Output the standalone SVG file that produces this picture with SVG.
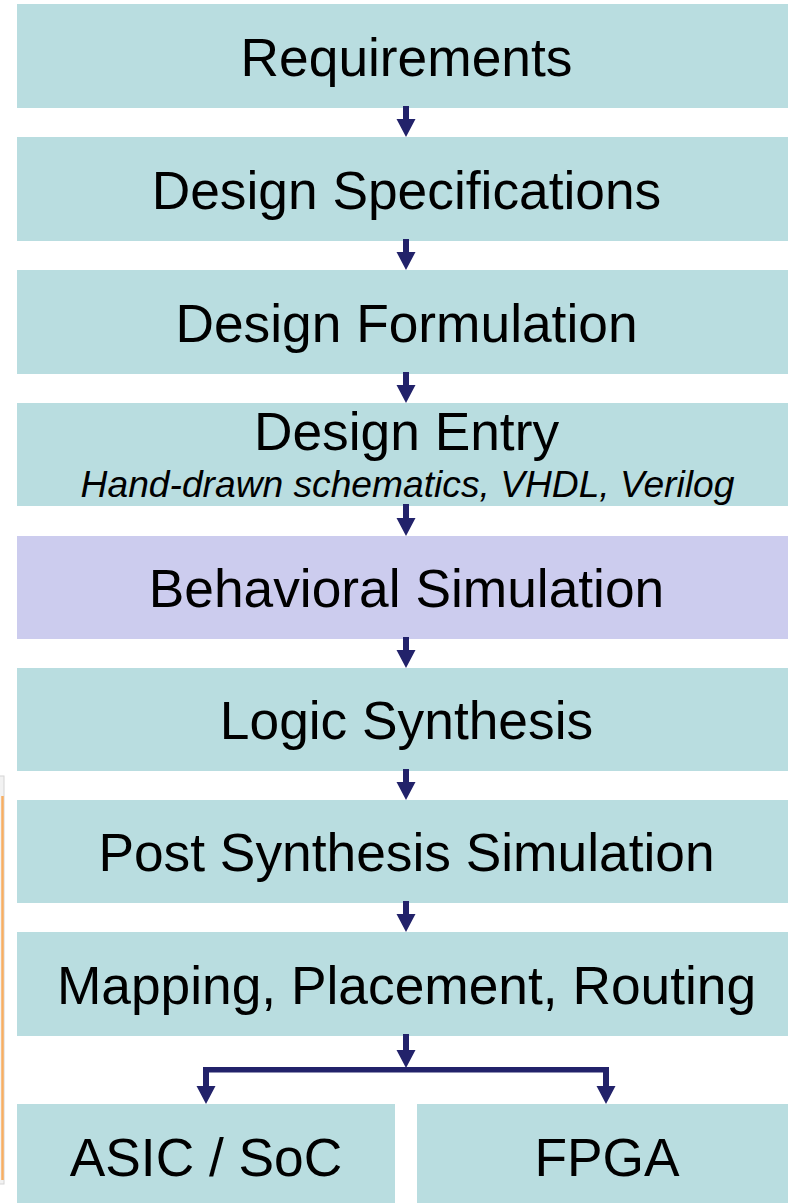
<svg xmlns="http://www.w3.org/2000/svg" width="788" height="1203" viewBox="0 0 788 1203">
<style>
.box{fill:#B9DDE0}
.sim{fill:#CCCCEE}
.t{font-family:"Liberation Sans",Arial,sans-serif;font-size:53.3px;fill:#000;text-anchor:middle}
.it{font-family:"Liberation Sans",Arial,sans-serif;font-size:37.2px;font-style:italic;fill:#000;text-anchor:middle}
.arr{fill:#22226A}
</style>
<rect x="0" y="0" width="788" height="1203" fill="#ffffff"/>
<g id="frame-edge">
<rect x="-10" y="776" width="14" height="408" fill="#F2F2F2" stroke="#D4D4D4" stroke-width="1"/>
<line x1="2.5" y1="796" x2="2.5" y2="1180" stroke="#F7AE62" stroke-width="2.5"/>
</g>
<g id="requirements"><rect class="box" x="17" y="4" width="790" height="104"/><text class="t" x="406.5" y="76">Requirements</text></g>
<g id="design-specifications"><rect class="box" x="17" y="137" width="790" height="104"/><text class="t" x="406.5" y="209">Design Specifications</text></g>
<g id="design-formulation"><rect class="box" x="17" y="270" width="790" height="104"/><text class="t" x="406.5" y="342">Design Formulation</text></g>
<g id="design-entry"><rect class="box" x="17" y="403" width="790" height="103"/><text class="t" x="406.5" y="450">Design Entry</text><text class="it" x="407.5" y="497">Hand-drawn schematics, VHDL, Verilog</text></g>
<g id="behavioral-simulation"><rect class="sim" x="17" y="536" width="790" height="103"/><text class="t" x="406.5" y="607">Behavioral Simulation</text></g>
<g id="logic-synthesis"><rect class="box" x="17" y="668" width="790" height="103"/><text class="t" x="406.5" y="739">Logic Synthesis</text></g>
<g id="post-synthesis-simulation"><rect class="box" x="17" y="800" width="790" height="103"/><text class="t" x="406.5" y="871">Post Synthesis Simulation</text></g>
<g id="mapping-placement-routing"><rect class="box" x="17" y="932" width="790" height="104"/><text class="t" x="406.5" y="1004">Mapping, Placement, Routing</text></g>
<g id="asic-soc"><rect class="box" x="17" y="1104" width="378" height="110"/><text class="t" x="206" y="1176">ASIC / SoC</text></g>
<g id="fpga"><rect class="box" x="417" y="1104" width="390" height="110"/><text class="t" x="607" y="1176">FPGA</text></g>
<g id="connectors" class="arr">
<path d="M403,106 H409 V119 H415.5 L406,137 L396.5,119 H403 Z"/>
<path d="M403,239 H409 V252 H415.5 L406,270 L396.5,252 H403 Z"/>
<path d="M403,372 H409 V385 H415.5 L406,403 L396.5,385 H403 Z"/>
<path d="M403,504 H409 V518 H415.5 L406,536 L396.5,518 H403 Z"/>
<path d="M403,637 H409 V650 H415.5 L406,668 L396.5,650 H403 Z"/>
<path d="M403,769 H409 V782 H415.5 L406,800 L396.5,782 H403 Z"/>
<path d="M403,901 H409 V914 H415.5 L406,932 L396.5,914 H403 Z"/>
<path d="M403,1034 H409 V1050 H415.5 L406,1068 L396.5,1050 H403 Z"/>
<rect x="203" y="1067" width="406" height="5.5"/>
<path d="M203,1068 H209 V1086 H215.5 L206,1104 L196.5,1086 H203 Z"/>
<path d="M603,1068 H609 V1086 H615.5 L606,1104 L596.5,1086 H603 Z"/>
</g>
</svg>
